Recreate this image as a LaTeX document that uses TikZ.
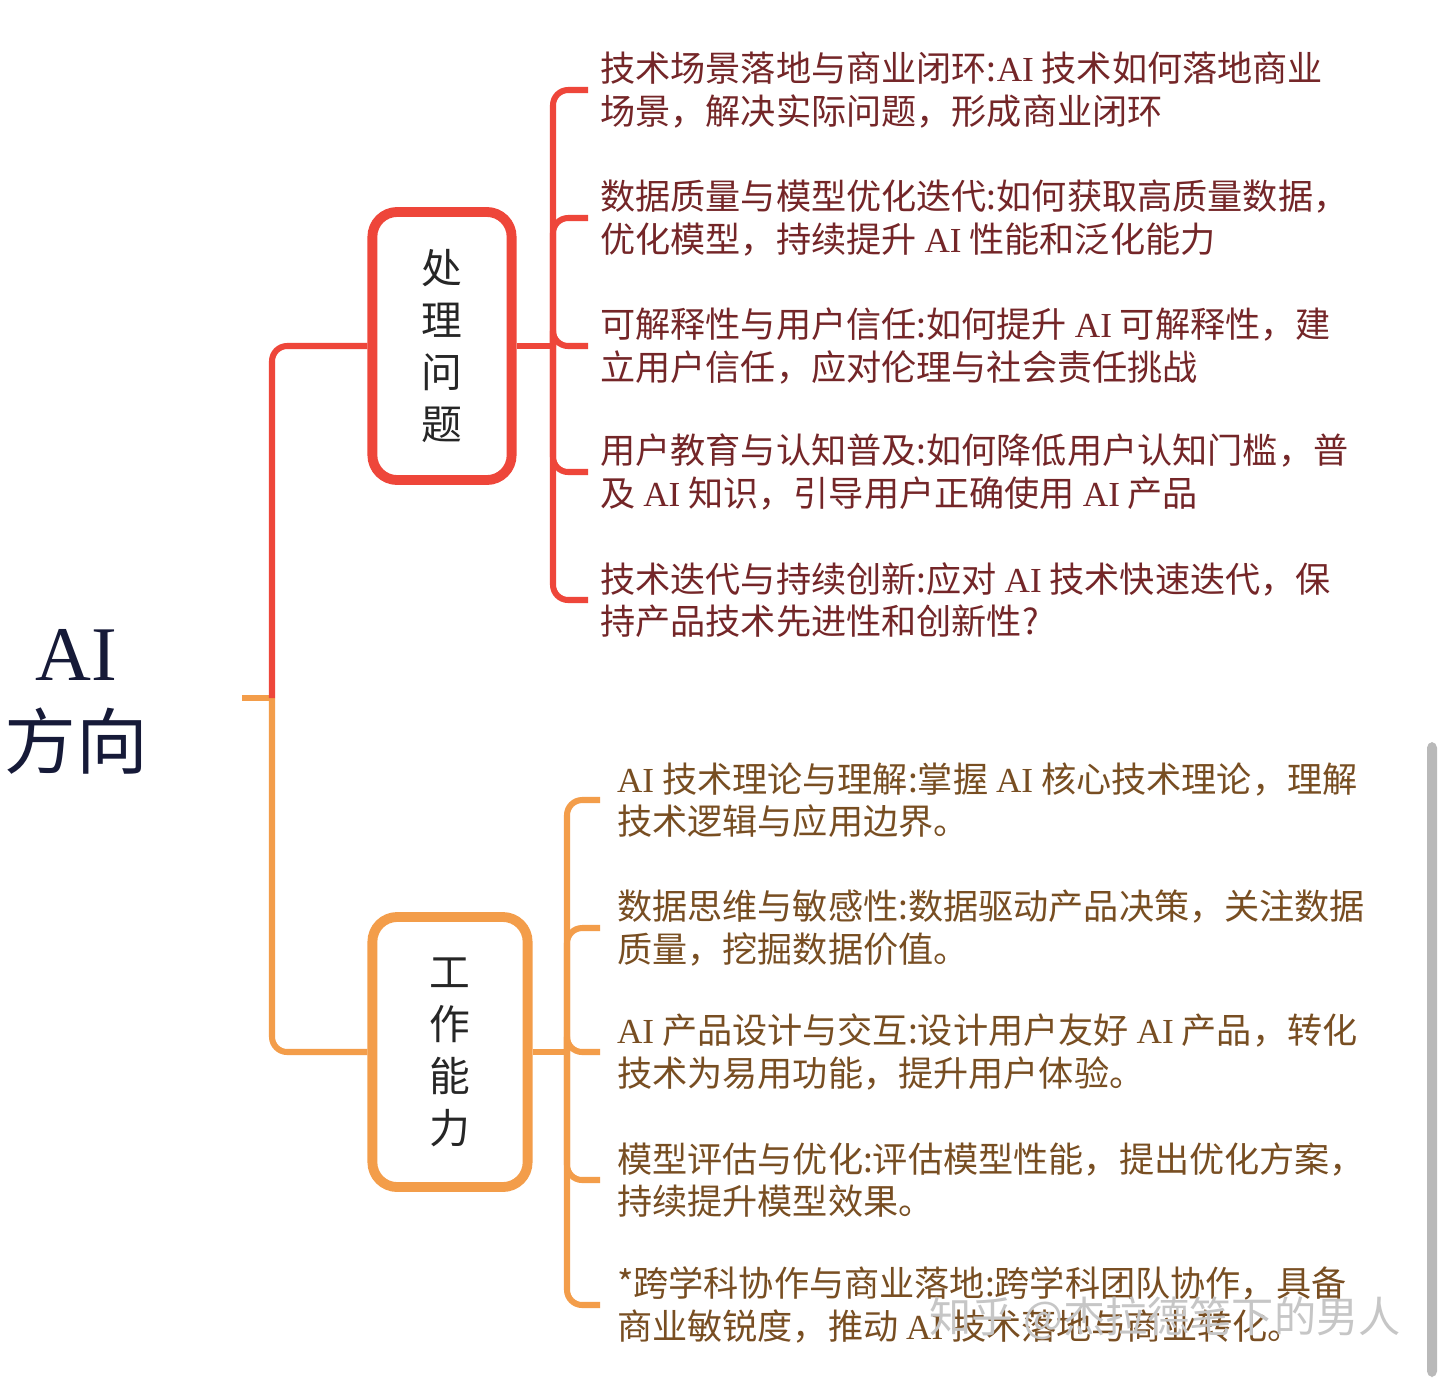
\documentclass[tikz,border=0pt]{standalone}
\usepackage{fontspec}
\setmainfont{Liberation Serif}
\newfontfamily\cjk{Noto Sans CJK SC}
\usetikzlibrary{positioning}
\definecolor{mapred}{RGB}{238,70,58}
\definecolor{maporange}{RGB}{243,157,74}
\definecolor{redtext}{RGB}{116,38,40}
\definecolor{orangetext}{RGB}{120,78,34}
\definecolor{rootblue}{RGB}{22,26,56}
\newcommand{\ai}{{\rmfamily AI}}
\tikzstyle{topic}=[draw,rounded corners=0.62cm,line width=7pt,fill=white,align=center,text=black!85,font=\cjk\fontsize{29}{37}\selectfont]
\tikzstyle{leaf}=[anchor=west,inner xsep=0.3cm,inner ysep=0pt,align=left,font=\cjk\fontsize{25}{30}\selectfont]
\tikzstyle{branch}=[line width=4.3pt,rounded corners=0.38cm]

\begin{document}
\begin{tikzpicture}[x=0.025cm,y=-0.025cm]

   \useasboundingbox[fill=white] (0,0) rectangle (1440,1377);

   % root
   \node[text=rootblue,align=center,font=\fontsize{55}{63}\selectfont] (root) at (76,702)
        {{\rmfamily AI}\\{\cjk\fontsize{51}{63}\selectfont 方向}};
   \coordinate (stub) at (242,698);
   \coordinate (fork) at (272,698);

   % main topics
   \node[topic,draw=mapred,minimum width=3.48cm,minimum height=6.7cm] (prob) at (442,346) {处\\理\\问\\题};
   \node[topic,draw=maporange,minimum width=3.88cm,minimum height=6.75cm] (abil) at (450,1052) {工\\作\\能\\力};

   \draw[line width=4.3pt,maporange] (stub) -- (fork);
   \draw[branch,maporange] (fork) |- (abil.west);
   \draw[branch,mapred] (fork) |- (prob.west);

   % problems
   \coordinate (pfork) at (553,346);
   \draw[branch,mapred] (prob.east) -- (pfork);
   \foreach \y/\name/\txt in {
        90/p1/{技术场景落地与商业闭环:\ai{} 技术如何落地商业\\场景，解决实际问题，形成商业闭环},
        218/p2/{数据质量与模型优化迭代:如何获取高质量数据，\\优化模型，持续提升 \ai{} 性能和泛化能力},
        346/p3/{可解释性与用户信任:如何提升 \ai{} 可解释性，建\\立用户信任，应对伦理与社会责任挑战},
        472/p4/{用户教育与认知普及:如何降低用户认知门槛，普\\及 \ai{} 知识，引导用户正确使用 \ai{} 产品},
        600/p5/{技术迭代与持续创新:应对 \ai{} 技术快速迭代，保\\持产品技术先进性和创新性?}}
   {
        \node[leaf,text=redtext] (\name) at (588,\y) {\txt};
        \draw[branch,mapred] (pfork) |- (\name.west);
   }

   % abilities
   \coordinate (afork) at (567,1052);
   \draw[branch,maporange] (abil.east) -- (afork);
   \foreach \y/\name/\txt in {
        800/a1/{\ai{} 技术理论与理解:掌握 \ai{} 核心技术理论，理解\\技术逻辑与应用边界。},
        928/a2/{数据思维与敏感性:数据驱动产品决策，关注数据\\质量，挖掘数据价值。},
        1052/a3/{\ai{} 产品设计与交互:设计用户友好 \ai{} 产品，转化\\技术为易用功能，提升用户体验。},
        1180/a4/{模型评估与优化:评估模型性能，提出优化方案，\\持续提升模型效果。},
        1305/a5/{*跨学科协作与商业落地:跨学科团队协作，具备\\商业敏锐度，推动 \ai{} 技术落地与商业转化。}}
   {
        \node[leaf,text=orangetext,inner xsep=0.42cm] (\name) at (600,\y) {\txt};
        \draw[branch,maporange] (afork) |- (\name.west);
   }

   % watermark and scroll bar
   \node[text=gray!45,font=\cjk\fontsize{30}{34}\selectfont] (mark) at (1165,1318) {知乎 @杰拉德笔下的男人};
   \fill[gray!55,rounded corners=4pt] (1427,742) rectangle (1437,1377);

\end{tikzpicture}
\end{document}
